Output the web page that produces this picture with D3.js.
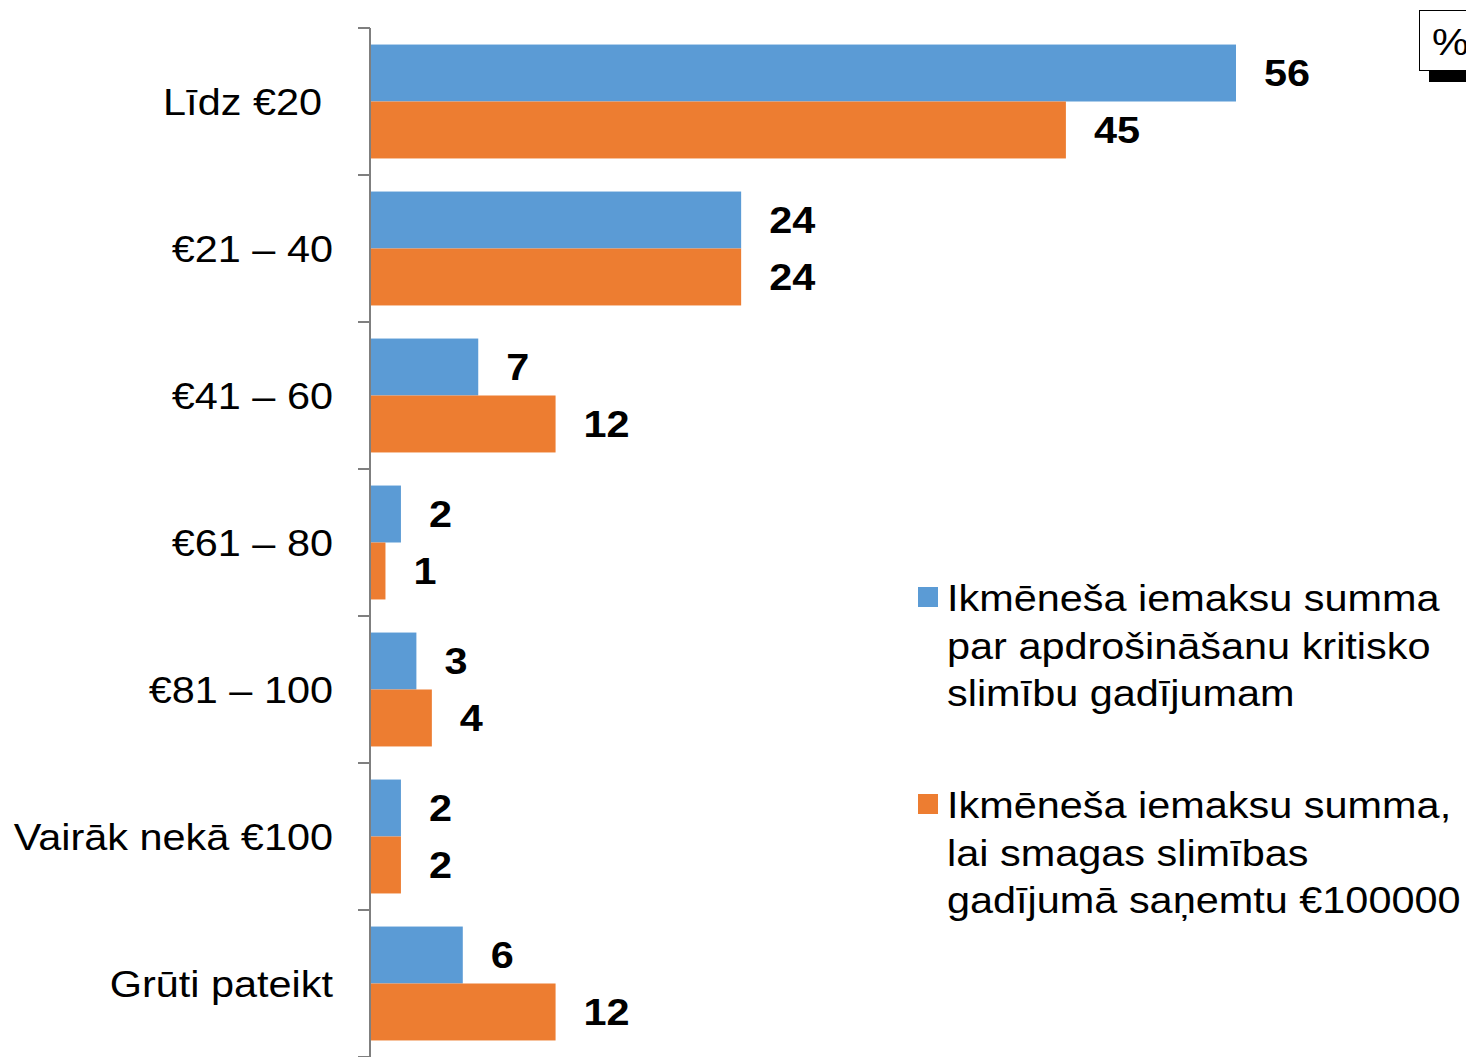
<!DOCTYPE html>
<html><head><meta charset="utf-8">
<script src="https://cdn.jsdelivr.net/npm/d3@7"></script>
<style>body{margin:0;background:#fff}svg{display:block}text{font-family:"Liberation Sans",Arial,sans-serif}</style>
</head><body>
<svg id="c" width="1466" height="1057"></svg>
<script>
const categories = ["Līdz €20", "€21 – 40", "€41 – 60", "€61 – 80", "€81 – 100", "Vairāk nekā €100", "Grūti pateikt"];
const seriesNames = ["Ikmēneša iemaksu summa par apdrošināšanu kritisko slimību gadījumam",
                     "Ikmēneša iemaksu summa, lai smagas slimības gadījumā saņemtu €100000"];
const series1 = [56, 24, 7, 2, 3, 2, 6];
const series2 = [45, 24, 12, 1, 4, 2, 12];
const legendLines = [["Ikmēneša iemaksu summa", "par apdrošināšanu kritisko", "slimību gadījumam"],
                     ["Ikmēneša iemaksu summa,", "lai smagas slimības", "gadījumā saņemtu €100000"]];
const colors = ["#5B9BD5", "#ED7D31"];

(function () {
const svg = d3.select("#c");
const SX = 1.12, FS = 37;
function txt(px, py, s) {
  return svg.append("text").attr("transform", `translate(${px},${py}) scale(${SX},1)`)
    .attr("font-size", FS).attr("fill", "#000").text(s);
}
const x0 = 370, plotTop = 28, plotBottom = 1057;
const x = d3.scaleLinear().domain([0, 56]).range([x0, 1236]);
const y = d3.scaleBand().domain(categories).range([plotTop, plotTop + 147 * 7]).paddingInner(0.225).paddingOuter(0.1125);
const ys = d3.scaleBand().domain([0, 1]).range([0, y.bandwidth()]);

const data = [series1, series2];
categories.forEach((c, i) => {
  data.forEach((s, k) => {
    svg.append("rect").attr("x", x(0)).attr("y", y(c) + ys(k))
      .attr("width", x(s[i]) - x(0)).attr("height", ys.bandwidth())
      .attr("fill", colors[k]);
    txt(x(s[i]) + 28, y(c) + ys(k) + ys.bandwidth() / 2, s[i])
      .attr("dy", "0.36em").attr("font-weight", "bold");
  });
});

// axis
svg.append("line").attr("x1", x0).attr("x2", x0).attr("y1", plotTop).attr("y2", plotBottom).attr("stroke", "#7f7f7f").attr("stroke-width", 2);
d3.range(8).forEach(j => {
  const yy = plotTop + j * 147;
  svg.append("line").attr("x1", x0 - 12).attr("x2", x0).attr("y1", yy).attr("y2", yy).attr("stroke", "#7f7f7f").attr("stroke-width", 2);
});
categories.forEach((c, i) => {
  txt(i === 0 ? 322 : 333, y(c) + y.bandwidth() / 2, c)
    .attr("dy", "0.36em").attr("text-anchor", "end");
});

// legend
legendLines.forEach((lines, k) => {
  const ly = k === 0 ? 611 : 818;
  svg.append("rect").attr("x", 918).attr("y", ly - 24).attr("width", 20).attr("height", 20).attr("fill", colors[k]);
  lines.forEach((t, j) => txt(947, ly + j * 47.5, t));
});

// % box
svg.append("rect").attr("x", 1429).attr("y", 70).attr("width", 40).attr("height", 12).attr("fill", "#000");
svg.append("rect").attr("x", 1419.5).attr("y", 10.5).attr("width", 50).attr("height", 60).attr("fill", "#fff").attr("stroke", "#000").attr("stroke-width", 1);
txt(1432, 55, "%");
})();
</script>
</body></html>
